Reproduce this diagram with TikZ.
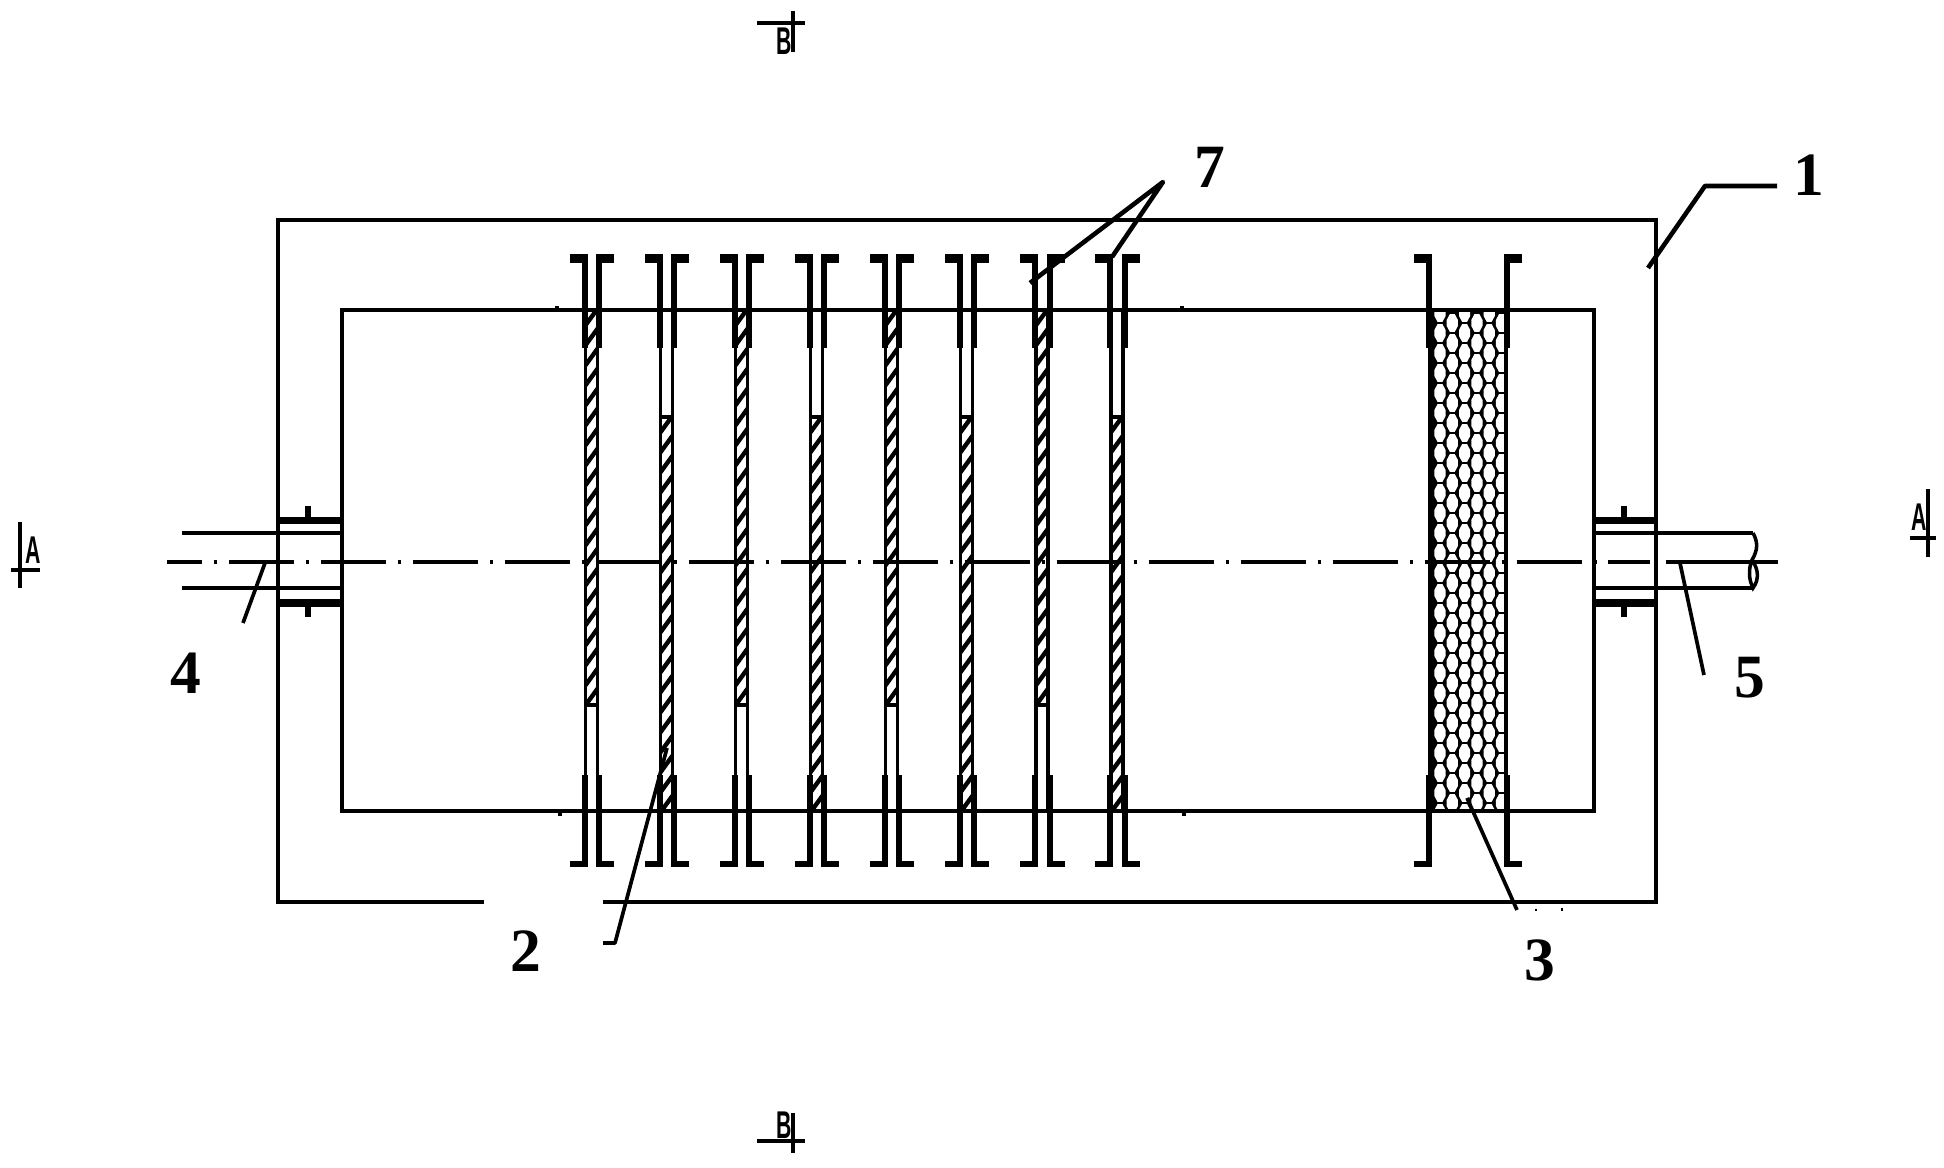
\documentclass[tikz,border=0pt]{standalone}
\usepackage{fontspec}
\usepackage{graphicx}
\setmainfont{Liberation Serif}
\setsansfont{Liberation Sans}
\tikzset{
    wall/.style={line width=1pt},
    leader/.style={line width=1.05pt, line join=round},
    heavyleader/.style={line width=1.3pt, line join=round},
    axisline/.style={line width=1pt, dash pattern=on 18.5pt off 3.4pt on 0.85pt off 3.4pt, dash phase=8.5pt},
    partno/.style={font=\fontsize{17.5}{18}\selectfont\bfseries, inner sep=0pt},
    secno/.style={font=\sffamily\bfseries\fontsize{11}{11}\selectfont, inner sep=0pt},
}
% flange pair of a slot, from the left and the right inner edge
\newcommand{\flanges}[2]{
    \fill (#1-18,254) rectangle (#1,263);
    \fill (#1-6,254) rectangle (#1,348);
    \fill (#2,254) rectangle (#2+18,263);
    \fill (#2,254) rectangle (#2+6,348);
    \fill (#1-6,775) rectangle (#1,867);
    \fill (#1-18,861) rectangle (#1,867);
    \fill (#2,775) rectangle (#2+6,867);
    \fill (#2,861) rectangle (#2+18,867);
}
% hatched part of a plate
\newcommand{\hatchbar}[3]{
    \begin{scope}
        \clip (#1-6,#2) rectangle (#1+6,#3);
        \foreach \k in {-1,...,22}
            \draw[line width=1.25pt] (#1-8,#2+20*\k+18) -- (#1+8,#2+20*\k-4);
    \end{scope}
}
\begin{document}
\begin{tikzpicture}[x=0.01cm, y=-0.01cm]
    \useasboundingbox (0,0) rectangle (1944,1168);

    % plates
    \foreach \n/\cx in {0/591.5,1/666.5,2/741.5,3/816.5,4/891.5,5/966.5,6/1042,7/1117}{
        \pgfmathparse{int(mod(\n,2))}
        \ifnum\pgfmathresult=0
            \hatchbar{\cx}{310}{705}
            \draw[wall] (\cx-6,705) -- (\cx+6,705);
        \else
            \hatchbar{\cx}{417}{811}
            \draw[wall] (\cx-6,417) -- (\cx+6,417);
        \fi
        \draw[wall] (\cx-6,310) -- (\cx-6,811);
        \draw[wall] (\cx+6,310) -- (\cx+6,811);
        \flanges{\cx-4}{\cx+4.5}
    }

    % honeycomb block
    \begin{scope}
        \clip (1430,310) rectangle (1506,811);
        \fill (1430,310) rectangle (1506,811);
        \foreach \i in {0,...,5}{
            \pgfmathsetmacro{\hx}{1440+12.3*\i}
            \pgfmathsetmacro{\hy}{293+10*mod(\i+1,2)+10}
            \foreach \j in {0,...,25}{
                \pgfmathsetmacro{\hc}{\hy+20*\j}
                \fill[white] (\hx-2.5,\hc-8.8) -- (\hx+2.5,\hc-8.8) -- (\hx+5.6,\hc-3) -- (\hx+5.6,\hc+3)
                    -- (\hx+2.5,\hc+8.8) -- (\hx-2.5,\hc+8.8) -- (\hx-5.6,\hc+3) -- (\hx-5.6,\hc-3) -- cycle;
            }
        }
    \end{scope}
    \draw[wall] (1430,310) rectangle (1506,811);
    \flanges{1432}{1504}

    % casing
    \draw[wall] (484,902) -- (278,902) -- (278,220) -- (1656,220) -- (1656,902) -- (603,902);
    \draw[wall] (342,310) rectangle (1594,811);
    \foreach \sx/\sa/\sb in {557/306/310, 1182/306/312, 560/811/816, 1184/811/816}
        \draw[line width=1.1pt] (\sx,\sa) -- (\sx,\sb);

    % pipes
    \draw[wall] (182,533) -- (342,533);
    \draw[wall] (182,588) -- (342,588);
    \draw[wall] (1594,533) -- (1753,533);
    \draw[wall] (1594,588) -- (1753,588);
    \draw[wall] (1753,533) .. controls (1758,542) and (1758,550) .. (1752,560)
        .. controls (1748,570) and (1749,580) .. (1753,588)
        .. controls (1759,580) and (1759,570) .. (1752,560);
    \foreach \fx/\fa/\fb in {278/342/308, 1594/1656/1624}{
        \fill (\fa,517) rectangle (\fx,524);
        \fill (\fa,599) rectangle (\fx,607);
        \fill (\fb-3,506) rectangle (\fb+3,517);
        \fill (\fb-3,607) rectangle (\fb+3,617);
    }

    % axis
    \coordinate (axisL) at (167,562);
    \coordinate (axisM) at (1650,562);
    \coordinate (axisN) at (1666,562);
    \coordinate (axisR) at (1778,562);
    \draw[axisline] (axisL) -- (axisM);
    \draw[wall] (axisN) -- (axisR);

    % part numbers
    \node[partno] (num1) at (1809,175) {1};
    \node[partno] (num2) at (526,951) {2};
    \node[partno] (num3) at (1540,960) {3};
    \node[partno] (num4) at (186,673) {4};
    \node[partno] (num5) at (1750,678) {5};
    \node[partno] (num7) at (1210,167) {7};

    % leaders
    \coordinate (lead1a) at (1648,268);
    \coordinate (lead1b) at (1705,186);
    \coordinate (lead1c) at (1777,186);
    \coordinate (lead2a) at (667,748);
    \coordinate (lead2b) at (615,943);
    \coordinate (lead2c) at (603,943);
    \coordinate (lead3a) at (1467,798);
    \coordinate (lead3b) at (1517,910);
    \coordinate (lead4a) at (265,563);
    \coordinate (lead4b) at (243,623);
    \coordinate (lead5a) at (1680,563);
    \coordinate (lead5b) at (1704,675);
    \coordinate (lead7a) at (1163,182);
    \coordinate (lead7b) at (1030,283);
    \coordinate (lead7c) at (1112,257);
    \draw[heavyleader] (lead1a) -- (lead1b) -- (lead1c);
    \draw[leader] (lead2a) -- (lead2b) -- (lead2c);
    \draw[leader] (lead3a) -- (lead3b);
    \draw[leader] (lead4a) -- (lead4b);
    \draw[leader] (lead5a) -- (lead5b);
    \draw[heavyleader] (lead7b) -- (lead7a) -- (lead7c);
    \fill (1535,909) rectangle (1537,911);
    \fill (1561,908) rectangle (1563,911);

    % section marks
    \draw[line width=1.2pt] (757,23) -- (805,23);
    \draw[line width=1.2pt] (793,11) -- (793,52);
    \node[secno] (secBt) at (784,41) {\scalebox{0.55}[1]{B}};
    \draw[line width=1.2pt] (757,1141) -- (805,1141);
    \draw[line width=1.2pt] (793,1113) -- (793,1153);
    \node[secno] (secBb) at (784,1125) {\scalebox{0.55}[1]{B}};
    \draw[line width=1pt] (20,522) -- (20,588);
    \draw[line width=1pt] (11,570) -- (40,570);
    \node[secno] (secAl) at (33,550) {\scalebox{0.55}[1]{A}};
    \draw[line width=1pt] (1928,489) -- (1928,557);
    \draw[line width=1pt] (1910,538) -- (1936,538);
    \node[secno] (secAr) at (1919,517) {\scalebox{0.55}[1]{A}};
\end{tikzpicture}
\end{document}
